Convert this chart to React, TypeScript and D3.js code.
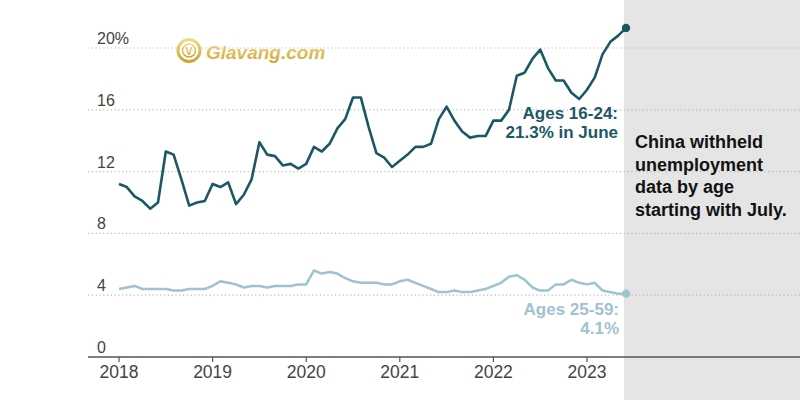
import React from "react";
import * as d3 from "d3";

const startYear = 2018;
const yearTicks = [2018, 2019, 2020, 2021, 2022, 2023];
const yTicks = [0, 4, 8, 12, 16, 20];

// Monthly unemployment rate, Jan 2018 – Jun 2023
const youth = [
  11.2, 11.0, 10.4, 10.1, 9.6, 10.0, 13.3, 13.1, 11.5, 9.8, 10.0, 10.1,
  11.2, 11.0, 11.3, 9.9, 10.5, 11.5, 13.9, 13.1, 13.0, 12.4, 12.5, 12.2,
  12.5, 13.6, 13.3, 13.8, 14.8, 15.4, 16.8, 16.8, 14.9, 13.2, 12.9, 12.3,
  12.7, 13.1, 13.6, 13.6, 13.8, 15.4, 16.2, 15.3, 14.6, 14.2, 14.3, 14.3,
  15.3, 15.3, 16.0, 18.2, 18.4, 19.3, 19.9, 18.7, 17.9, 17.9, 17.1, 16.7,
  17.3, 18.1, 19.6, 20.4, 20.8, 21.3,
];
const adult = [
  4.4, 4.5, 4.6, 4.4, 4.4, 4.4, 4.4, 4.3, 4.3, 4.4, 4.4, 4.4,
  4.6, 4.9, 4.8, 4.7, 4.5, 4.6, 4.6, 4.5, 4.6, 4.6, 4.6, 4.7,
  4.7, 5.6, 5.4, 5.5, 5.4, 5.1, 4.9, 4.8, 4.8, 4.8, 4.7, 4.7,
  4.9, 5.0, 4.8, 4.6, 4.4, 4.2, 4.2, 4.3, 4.2, 4.2, 4.3, 4.4,
  4.6, 4.8, 5.2, 5.3, 5.0, 4.5, 4.3, 4.3, 4.7, 4.7, 5.0, 4.8,
  4.7, 4.8, 4.3, 4.2, 4.1, 4.1,
];
const youthLabel = ["Ages 16-24:", "21.3% in June"];
const adultLabel = ["Ages 25-59:", "4.1%"];
const noteLines = ["China withheld", "unemployment", "data by age", "starting with July."];

const W = 800;
const H = 400;
const DARK = "#1b5866";
const LIGHT = "#9fc2d1";
const FONT = "'Liberation Sans', Arial, sans-serif";

export default function App() {
  const x = d3.scaleLinear().domain([2018, 2023]).range([119, 587]);
  const y = d3.scaleLinear().domain([0, 20]).range([357, 48]);
  const t = (i: number) => startYear + i / 12;

  const line = d3
    .line<number>()
    .x((_, i) => x(t(i)))
    .y((d) => y(d))
    .curve(d3.curveLinear);

  const lastI = youth.length - 1;
  const xEnd = x(t(lastI));

  return (
    <div style={{ position: "fixed", left: 0, top: 0, width: W, height: H, background: "#fff" }}>
      <svg width={W} height={H} style={{ display: "block", fontFamily: FONT }}>
        <rect x={xEnd - 2} y={0} width={W - xEnd + 2} height={H} fill="#e5e5e5" />

        {yTicks.filter((v) => v > 0).map((v) => (
          <line
            key={"g" + v}
            x1={88}
            x2={W}
            y1={y(v)}
            y2={y(v)}
            stroke="#b8b8b8"
            strokeWidth={1.2}
            strokeDasharray="1.2,2.6"
          />
        ))}
        {yTicks.map((v) => (
          <text key={"yl" + v} x={97} y={y(v) - 4} fontSize={16} fill="#444">
            {v === 20 ? "20%" : String(v)}
          </text>
        ))}

        <line x1={88} x2={W} y1={y(0)} y2={y(0)} stroke="#555" strokeWidth={1.6} />
        {yearTicks.map((yr) => (
          <g key={"xt" + yr}>
            <line x1={x(yr)} x2={x(yr)} y1={y(0)} y2={y(0) + 5} stroke="#555" strokeWidth={1.2} />
            <text x={x(yr)} y={377.5} fontSize={17.5} fill="#444" textAnchor="middle">
              {yr}
            </text>
          </g>
        ))}

        {/* watermark */}
        <g opacity={0.9}>
          <defs>
            <linearGradient id="gold" x1="0" y1="0" x2="0" y2="1">
              <stop offset="0%" stopColor="#f0d77a" />
              <stop offset="100%" stopColor="#c99a1e" />
            </linearGradient>
          </defs>
          <circle cx={189} cy={50.5} r={11} fill="none" stroke="url(#gold)" strokeWidth={3} />
          <circle cx={189} cy={50.5} r={6.5} fill="none" stroke="url(#gold)" strokeWidth={1.5} />
          <text x={189} y={55} fontSize={11} fontWeight="bold" fill="url(#gold)" textAnchor="middle">
            V
          </text>
          <text
            x={206}
            y={59}
            fontSize={19}
            fontWeight="bold"
            fontStyle="italic"
            fill="url(#gold)"
          >
            Glavang.com
          </text>
        </g>

        <path d={line(adult) || ""} fill="none" stroke={LIGHT} strokeWidth={2.5} strokeLinejoin="round" />
        <path d={line(youth) || ""} fill="none" stroke={DARK} strokeWidth={2.6} strokeLinejoin="round" />
        <circle cx={xEnd} cy={y(youth[lastI])} r={4.2} fill={DARK} />
        <circle cx={xEnd} cy={y(adult[lastI])} r={4.2} fill={LIGHT} />

        {youthLabel.map((s, i) => (
          <text key={"yl" + i} x={618} y={119 + i * 18.5} fontSize={17} fontWeight="bold" fill={DARK} textAnchor="end">
            {s}
          </text>
        ))}
        {adultLabel.map((s, i) => (
          <text key={"al" + i} x={619} y={315 + i * 18.5} fontSize={17} fontWeight="bold" fill={LIGHT} textAnchor="end">
            {s}
          </text>
        ))}
        {noteLines.map((s, i) => (
          <text key={"n" + i} x={635} y={148 + i * 22.5} fontSize={18} fontWeight="bold" fill="#121212">
            {s}
          </text>
        ))}
      </svg>
    </div>
  );
}
